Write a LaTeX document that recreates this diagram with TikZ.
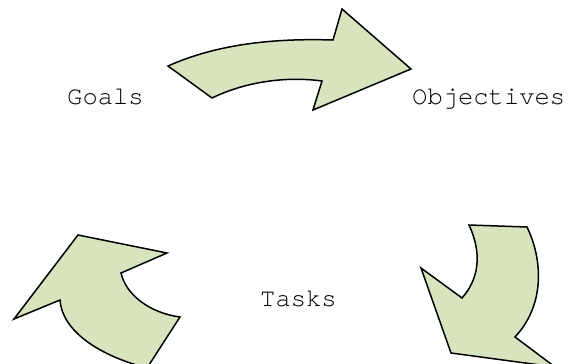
\documentclass[tikz,border=0pt]{standalone}
\usepackage{fontspec}
\setmonofont{TeX Gyre Cursor}
\definecolor{arrowfill}{HTML}{D7E4BD}
\begin{document}
\begin{tikzpicture}[x=1pt,y=-1pt,
  bigarrow/.style={fill=arrowfill,draw=black,line width=1.5pt,line join=miter},
  lbl/.style={font=\ttfamily\fontsize{25.5}{30}\selectfont,inner sep=0pt}]
\useasboundingbox (0,0) rectangle (571,364);
\begin{scope}
\clip (0,0) rectangle (571,364);
% top arrow
\path[bigarrow] (168,66) .. controls (215,45) and (270,38) .. (333,40)
  -- (342,9) -- (411,69) -- (313,110) -- (322,81)
  .. controls (285,76) and (245,82) .. (212,98) -- cycle;
% right arrow
\path[bigarrow] (469,225) -- (527,227)
  .. controls (543,260) and (545,305) .. (515,337)
  -- (555,367) -- (451,353) -- (421,268) -- (462,298)
  .. controls (478,280) and (483,255) .. cycle;
% left arrow
\path[bigarrow] (78,235) -- (167,253) -- (121,273)
  .. controls (126,295) and (150,313) .. (180,317)
  -- (147,368) .. controls (97,355) and (62,330) .. (60,300)
  -- (14,319) -- cycle;
\end{scope}
\node[lbl,anchor=base west] (goals) at (67,104) {Goals};
\node[lbl,anchor=base west] (obj) at (412,104) {Objectives};
\node[lbl,anchor=base west] (tasks) at (260,306) {Tasks};
\end{tikzpicture}
\end{document}
